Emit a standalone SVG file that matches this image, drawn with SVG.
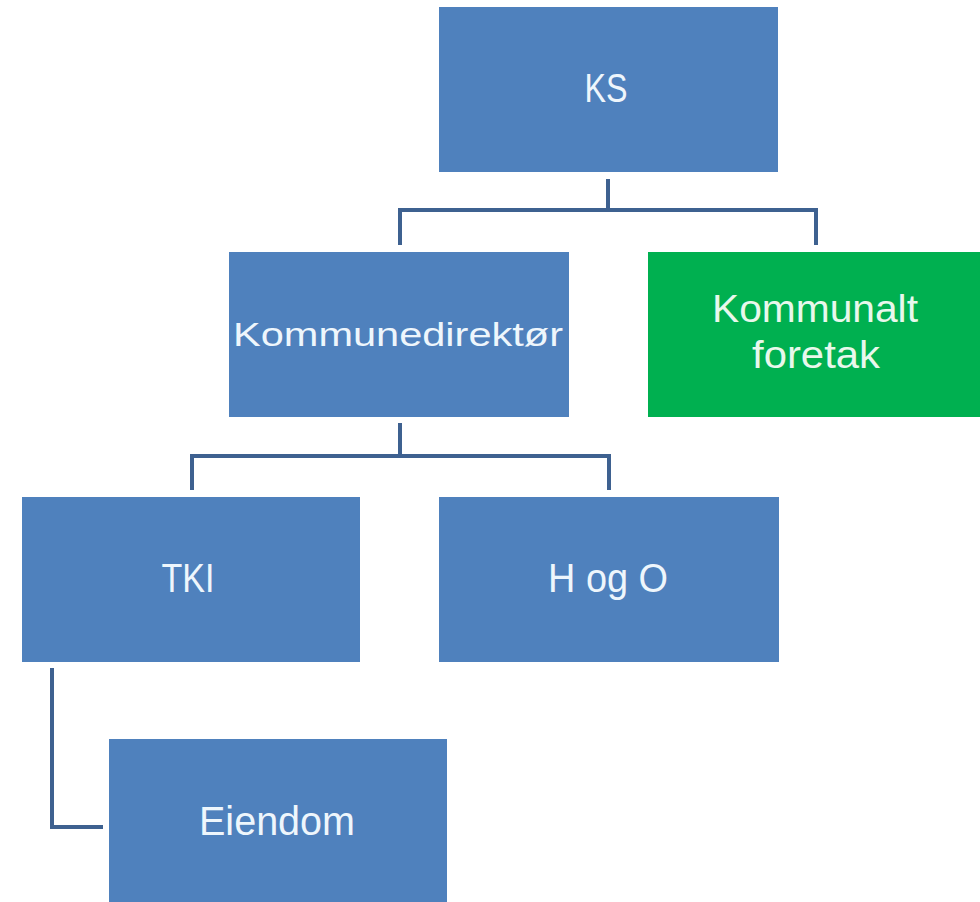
<svg xmlns="http://www.w3.org/2000/svg" width="980" height="902" viewBox="0 0 980 902">
<style>
.box{fill:#4f81bd}
.green{fill:#00b050}
.lbl{font-family:"Liberation Sans",Arial,sans-serif;fill:#eef6fc;text-anchor:middle}
.glbl{font-family:"Liberation Sans",Arial,sans-serif;fill:#e8f8ec;text-anchor:middle}
.conn{fill:none;stroke:#3e6190;stroke-width:4}
</style>
<rect width="980" height="902" fill="#ffffff"/>
<g id="connectors">
<path class="conn" d="M608 179 V210 M400 245 V210 H816 V245"/>
<path class="conn" d="M400 423 V456 M192 490 V456 H609 V490"/>
<path class="conn" d="M52 668 V827 H103"/>
</g>
<g id="ks">
<rect class="box" x="439" y="7" width="339" height="165"/>
<text class="lbl" x="606" y="102" font-size="41" textLength="43" lengthAdjust="spacingAndGlyphs">KS</text>
</g>
<g id="kommunedirektor">
<rect class="box" x="229" y="252" width="340" height="165"/>
<text class="lbl" x="398" y="346" font-size="34" textLength="330" lengthAdjust="spacingAndGlyphs">Kommunedirektør</text>
</g>
<g id="kommunalt-foretak">
<rect class="green" x="648" y="252" width="332" height="165"/>
<text class="glbl" x="815" y="322" font-size="38" textLength="206" lengthAdjust="spacingAndGlyphs">Kommunalt</text>
<text class="glbl" x="816" y="368" font-size="38" textLength="128" lengthAdjust="spacingAndGlyphs">foretak</text>
</g>
<g id="tki">
<rect class="box" x="22" y="497" width="338" height="165"/>
<text class="lbl" x="188" y="592" font-size="41" textLength="53" lengthAdjust="spacingAndGlyphs">TKI</text>
</g>
<g id="h-og-o">
<rect class="box" x="439" y="497" width="340" height="165"/>
<text class="lbl" x="608" y="592" font-size="41" textLength="120" lengthAdjust="spacingAndGlyphs">H og O</text>
</g>
<g id="eiendom">
<rect class="box" x="109" y="739" width="338" height="165"/>
<text class="lbl" x="277" y="835" font-size="40" textLength="156" lengthAdjust="spacingAndGlyphs">Eiendom</text>
</g>
</svg>
